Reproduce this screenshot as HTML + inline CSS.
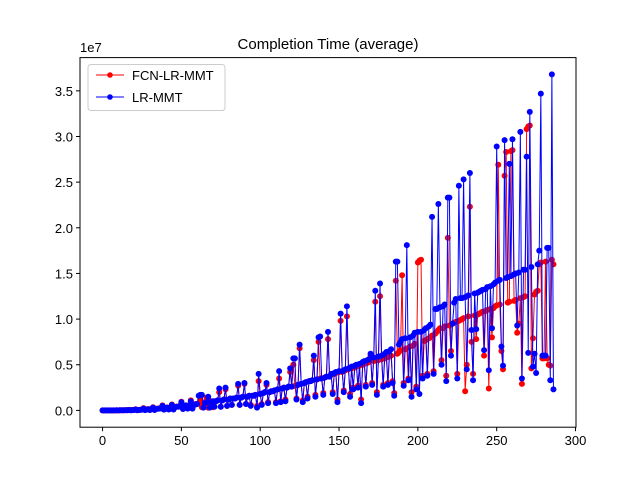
<!DOCTYPE html>
<html><head><meta charset="utf-8"><style>
body{margin:0;background:#fff;}
svg text{font-family:"Liberation Sans","DejaVu Sans",sans-serif;}
</style></head><body>
<svg id="chart" width="640" height="480" xmlns="http://www.w3.org/2000/svg">
<rect width="640" height="480" fill="#fff"/>
<text x="328" y="49" text-anchor="middle" font-size="15">Completion Time (average)</text>
<text x="80" y="52" font-size="13">1e7</text>
<g id="axes"></g>
<g id="series"></g>
<rect x="80" y="57.6" width="496" height="369.6" fill="none" stroke="#000" stroke-width="1"/>
<g>
<rect x="88" y="64.5" width="137" height="46" rx="3" fill="#fff" fill-opacity="0.8" stroke="#ccc"/>
<g>
<line x1="96" y1="75" x2="124" y2="75" stroke="red" stroke-width="1"/><circle cx="110" cy="75" r="2.8" fill="red"/>
<text x="132" y="80" font-size="13">FCN-LR-MMT</text></g>
<g>
<line x1="96" y1="97" x2="124" y2="97" stroke="blue" stroke-width="1"/><circle cx="110" cy="97" r="2.8" fill="blue"/>
<text x="132" y="102" font-size="13">LR-MMT</text></g>
</g>
</svg>
<script>
const xTicks=[0,50,100,150,200,250,300];
const yTicks=[0,0.5,1.0,1.5,2.0,2.5,3.0,3.5];
const yTickLabels=["0.0","0.5","1.0","1.5","2.0","2.5","3.0","3.5"];
const redValues=[0,0,0,0,0,0,0,0,0,0.01,0,0.01,
0.01,0.02,0.02,0.03,0.03,0.06,0.02,0.04,0.05,0.12,0.03,0.06,
0.07,0.1,0.25,0.05,0.12,0.14,0.06,0.18,0.35,0.07,0.18,0.2,
0.22,0.25,0.55,0.1,0.28,0.32,0.12,0.35,0.65,0.12,0.38,0.42,
0.42,0.5,0.95,0.18,0.5,0.55,0.25,0.55,1.1,0.25,0.6,0.7,
0.7,0.8,1.2,0.35,0.8,0.9,1.4,0.3,0.9,1.0,0.35,1.0,
1.0,1.1,2.0,0.4,1.1,1.2,2.3,0.5,1.2,1.3,0.6,1.3,
1.3,1.4,2.7,0.6,1.4,1.5,2.9,0.7,1.5,1.6,0.6,1.6,
1.6,1.7,0.5,3.2,1.8,0.7,1.9,2.0,2.8,0.9,2.0,2.1,
2.1,2.2,0.9,2.3,3.5,1.0,2.4,2.5,1.2,2.5,2.6,4.2,
2.6,5.0,2.7,1.3,2.8,6.8,2.9,1.1,3.0,3.1,1.5,3.2,
3.2,3.3,5.5,1.7,3.4,7.5,3.5,3.5,1.9,3.6,3.7,7.8,
3.7,3.9,2.0,4.0,4.1,1.2,4.2,9.8,4.2,2.2,4.4,10.3,
4.5,1.8,4.6,2.5,4.7,4.8,2.7,4.9,1.2,5.0,5.1,2.8,
5.2,5.3,6.0,3.0,5.4,11.9,2.0,5.5,12.5,5.6,2.8,5.7,
5.8,3.0,5.9,6.0,3.2,1.9,14.2,6.2,6.4,6.6,14.8,3.0,
6.7,6.8,3.5,7.0,2.0,7.1,7.3,2.6,16.2,16.4,16.5,3.8,
7.6,7.7,4.0,7.9,8.0,8.2,4.3,8.4,8.6,8.8,9.0,5.5,
9.0,9.2,3.8,18.9,9.3,6.5,9.5,9.6,9.7,4.0,9.8,9.9,
10.0,10.1,2.1,5.0,10.3,22.3,7.5,4.0,10.4,7.8,10.5,10.6,
10.7,10.8,6.0,10.9,11.0,2.4,11.1,8.0,11.2,11.4,11.5,26.9,
11.6,6.5,4.5,25.7,28.3,11.8,11.9,28.4,28.5,12.0,12.1,8.5,
9.5,12.3,2.9,12.4,12.5,30.8,31.1,31.2,4.6,7.9,12.7,13.0,
13.1,16.0,16.2,5.7,5.7,16.3,5.7,5.0,4.9,16.5,16.0];
const blueValues=[0,0,0,0,0,0,0,0,0,0.01,0,0.01,
0.01,0.02,0.01,0.03,0.02,0.05,0.01,0.03,0.04,0.1,0.02,0.05,
0.06,0.08,0.2,0.03,0.1,0.12,0.05,0.15,0.3,0.05,0.15,0.18,
0.2,0.22,0.5,0.08,0.25,0.3,0.1,0.3,0.6,0.1,0.35,0.4,
0.4,0.45,0.9,0.15,0.5,0.55,0.2,0.5,1.0,0.2,0.6,0.65,
0.7,1.6,1.7,1.7,0.3,0.8,0.9,1.5,0.3,0.9,1.0,0.4,
1.0,1.1,2.4,0.4,1.1,1.2,2.5,0.5,1.2,1.3,0.6,1.3,
1.3,1.4,2.9,0.6,1.4,1.5,3.0,0.7,1.5,1.6,0.5,1.6,
1.6,1.7,0.3,4.0,1.8,0.6,1.9,2.0,3.0,0.8,2.0,2.1,
2.1,2.2,0.8,2.3,4.3,0.9,2.4,2.5,1.0,2.5,2.6,4.6,
2.6,5.7,5.7,1.2,2.8,7.2,2.9,0.9,3.0,3.1,1.3,3.2,
3.2,3.3,6.0,1.5,3.4,8.0,8.1,3.5,1.7,3.6,3.7,8.6,
3.7,4.0,1.8,4.1,4.2,0.9,4.3,10.6,4.3,2.0,4.5,11.4,
4.6,1.5,4.8,2.3,4.9,5.0,2.5,5.1,0.8,5.3,5.4,2.6,
5.5,5.6,6.2,2.8,5.8,13.1,1.7,5.9,13.9,6.0,2.6,6.2,
6.4,2.8,6.5,6.7,3.0,1.6,16.3,16.3,7.2,7.5,7.8,2.7,
7.9,18.1,3.3,8.0,1.5,8.2,8.5,2.3,8.6,1.8,8.6,3.5,
8.8,9.0,3.8,9.2,9.4,21.2,4.0,11.1,11.1,22.6,11.3,5.0,
11.4,11.6,3.2,23.3,23.3,6.0,9.5,11.8,12.2,3.5,24.6,12.3,
12.3,25.3,12.4,4.5,12.6,26.0,8.8,3.3,12.8,8.9,12.9,13.0,
13.1,13.2,6.6,13.3,13.5,4.4,13.6,9.0,13.8,14.0,28.9,14.2,
14.3,7.0,4.9,29.6,14.5,14.6,27.0,14.7,29.7,14.9,15.0,9.3,
15.1,30.5,3.5,15.4,15.4,27.8,6.3,32.7,15.7,4.8,6.2,4.1,
16.0,17.5,34.7,6.0,6.0,6.0,17.8,17.8,3.3,36.8,2.3];
const NS="http://www.w3.org/2000/svg";
const L=80,R=576,T=57.6,B=427.2;
const n=Math.max(redValues.length,blueValues.length);
const xmin=-(n-1)*0.05,xmax=(n-1)*1.05;
const allV=redValues.concat(blueValues);
const vmax=Math.max(...allV),vmin=Math.min(...allV),pad=(vmax-vmin)*0.05;
const ymin=vmin-pad,ymax=vmax+pad;
function xs(v){return L+(v-xmin)/(xmax-xmin)*(R-L);}
function ys(v){return B-(v-ymin)/(ymax-ymin)*(B-T);}
const axes=document.getElementById('axes');
xTicks.forEach(t=>{
 const g=document.createElementNS(NS,'g');
 
 
 const x=xs(t);
 g.innerHTML=`<line x1="${x}" y1="${B}" x2="${x}" y2="${B+4}" stroke="#000"/><text x="${x}" y="${B+18}" font-size="13" text-anchor="middle">${t}</text>`;
 axes.appendChild(g);
});
yTicks.forEach((t,i)=>{
 const g=document.createElementNS(NS,'g');
 
 
 const y=ys(t*10);
 g.innerHTML=`<line x1="${L-4}" y1="${y}" x2="${L}" y2="${y}" stroke="#000"/><text x="${L-7}" y="${y+5}" font-size="13" text-anchor="end">${yTickLabels[i]}</text>`;
 axes.appendChild(g);
});
const series=document.getElementById('series');
function draw(vals,color,name){
 const g=document.createElementNS(NS,'g');
 
 
 const pts=vals.map((v,i)=>xs(i).toFixed(2)+','+ys(v).toFixed(2)).join(' ');
 const pl=document.createElementNS(NS,'polyline');
 
 
 pl.setAttribute('points',pts);pl.setAttribute('fill','none');pl.setAttribute('stroke',color);pl.setAttribute('stroke-width','1');
 g.appendChild(pl);
 vals.forEach((v,i)=>{
  const c=document.createElementNS(NS,'circle');
  
  
  c.setAttribute('cx',xs(i));c.setAttribute('cy',ys(v));c.setAttribute('r','3');c.setAttribute('fill',color);
  g.appendChild(c);
 });
 series.appendChild(g);
}
draw(redValues,'red','series-fcn-lr-mmt');
draw(blueValues,'blue','series-lr-mmt');
</script>
</body></html>
